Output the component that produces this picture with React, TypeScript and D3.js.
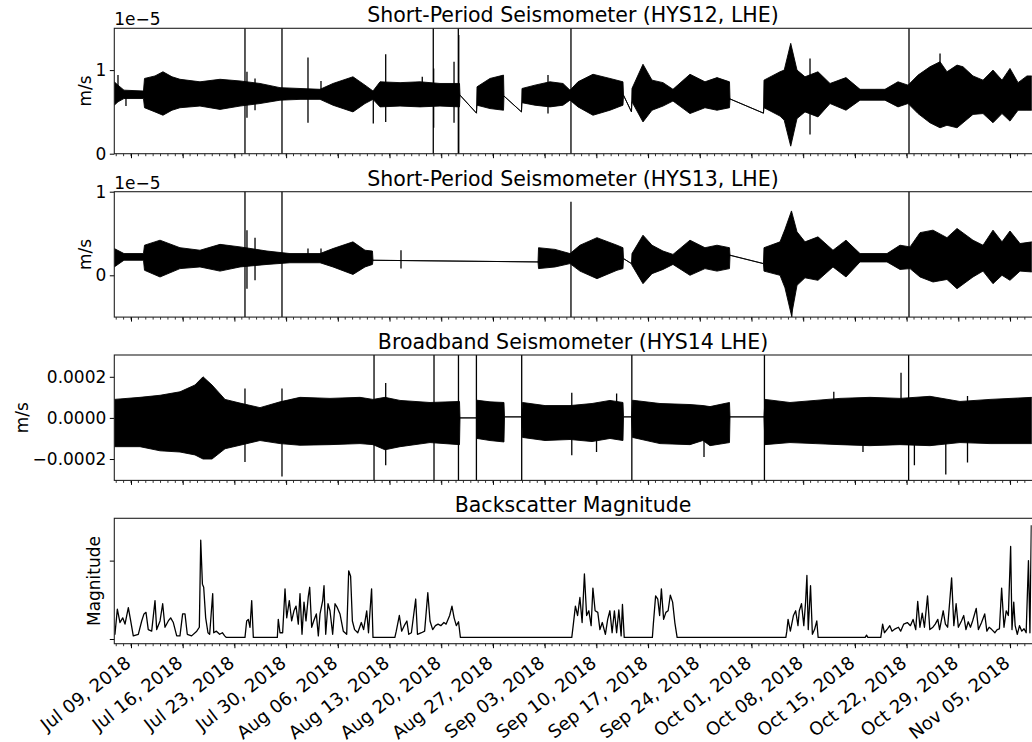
import React, { useEffect, useRef } from "react";
import * as d3 from "d3";

// all times are days since 2018-07-09 00:00 UTC
const t0 = Date.UTC(2018, 6, 9);
const dayMs = 864e5;

// HYS12 LHE envelope: [day, low, high] in 1e-5 m/s
const hys12Envelope = [
  [-2.26, 0.58, 0.86], [-1.76, 0.62, 0.82], [-0.95, 0.66, 0.76], [1.69, 0.66, 0.75],
  [1.83, 0.55, 0.9], [3.25, 0.5, 0.93], [4.33, 0.46, 0.98], [5.55, 0.52, 0.92],
  [6.63, 0.55, 0.89], [9.34, 0.57, 0.86], [12.05, 0.53, 0.89], [14.76, 0.57, 0.87],
  [17.46, 0.6, 0.84], [20.17, 0.64, 0.79], [22.88, 0.65, 0.78], [25.59, 0.65, 0.77],
  [27.35, 0.58, 0.84], [30.05, 0.5, 0.92], [31.68, 0.6, 0.82], [32.76, 0.65, 0.75],
  [33.71, 0.56, 0.86], [36.42, 0.57, 0.85], [39.12, 0.56, 0.86], [41.83, 0.57, 0.84],
  [44.47, 0.56, 0.84], [44.54, 0.7, 0.7], [46.77, 0.485, 0.485], [46.84, 0.58, 0.8],
  [48.6, 0.54, 0.9], [50.43, 0.52, 0.94], [50.49, 0.69, 0.69], [52.86, 0.5, 0.5],
  [52.93, 0.61, 0.78], [54.69, 0.58, 0.82], [56.72, 0.56, 0.86], [58.48, 0.58, 0.84],
  [59.43, 0.64, 0.76], [60.51, 0.56, 0.86], [62.54, 0.46, 0.95], [64.84, 0.52, 0.9],
  [66.6, 0.58, 0.86], [66.67, 0.7, 0.7], [67.75, 0.5, 0.5], [67.82, 0.62, 0.78],
  [69.31, 0.38, 1.07], [70.53, 0.52, 0.88], [72.02, 0.57, 0.85], [73.37, 0.63, 0.77],
  [75.67, 0.48, 0.95], [77.7, 0.55, 0.86], [79.33, 0.52, 0.91], [81.02, 0.55, 0.86],
  [81.09, 0.655, 0.655], [85.62, 0.485, 0.485], [85.69, 0.55, 0.88], [87.86, 0.45, 0.98],
  [88.43, 0.4, 1.0], [89.31, 0.09, 1.32], [90.16, 0.42, 1.0], [91.24, 0.5, 0.92],
  [93.0, 0.44, 0.98], [94.63, 0.6, 0.84], [96.79, 0.52, 0.91], [98.69, 0.64, 0.77],
  [102.07, 0.64, 0.77], [103.83, 0.56, 0.86], [105.19, 0.6, 0.82], [106.54, 0.48, 0.94],
  [108.16, 0.37, 1.04], [109.52, 0.31, 1.1], [110.46, 0.34, 0.98], [111.82, 0.31, 1.06],
  [112.63, 0.37, 1.04], [113.98, 0.47, 0.93], [115.34, 0.48, 0.88], [116.69, 0.37, 1.0],
  [117.91, 0.48, 0.88], [118.99, 0.39, 1.02], [120.08, 0.52, 0.85], [121.29, 0.52, 0.93],
  [121.97, 0.52, 0.93],
];

// HYS12 glitches: [day, low, high]; ±10 runs off the axes
const hys12Spikes = [
  [-1.76, 0.7, 0.94], [-0.68, 0.57, 0.72], [15.43, -10, 10], [15.7, 0.43, 0.98],
  [16.79, 0.52, 0.9], [20.44, -10, 10], [23.96, 0.37, 1.15], [25.72, 0.65, 0.87],
  [32.8, 0.36, 0.75], [34.48, 0.38, 1.19], [39.43, 0.65, 0.92], [40.92, -10, 10],
  [40.97, 0.31, 1.02], [43.73, 0.37, 1.1], [44.31, -10, 10], [44.37, 0.0, 1.42],
  [56.45, 0.48, 0.94], [59.56, -10, 10], [91.92, 0.23, 1.14], [105.32, -10, 10],
  [109.52, 0.6, 1.2],
];

// HYS13 LHE envelope: [day, low, high] in 1e-5 m/s
const hys13Envelope = [
  [-2.26, 0.1, 0.32], [-0.95, 0.18, 0.26], [1.69, 0.18, 0.26], [1.83, 0.06, 0.36],
  [3.93, -0.02, 0.42], [6.63, 0.08, 0.33], [9.34, 0.1, 0.3], [12.05, 0.05, 0.37],
  [14.76, 0.1, 0.34], [18.41, 0.13, 0.29], [21.52, 0.15, 0.26], [25.59, 0.15, 0.26],
  [27.35, 0.1, 0.32], [30.05, 0.01, 0.4], [31.68, 0.1, 0.3], [32.69, 0.13, 0.29],
  [32.76, 0.18, 0.18], [55.1, 0.16, 0.16], [55.17, 0.08, 0.33], [57.4, 0.1, 0.31],
  [59.43, 0.14, 0.26], [60.78, 0.05, 0.36], [63.08, -0.04, 0.45], [65.79, 0.06, 0.36],
  [66.6, 0.08, 0.33], [66.67, 0.2, 0.2], [67.75, 0.14, 0.14], [67.82, 0.12, 0.26],
  [69.31, -0.1, 0.48], [70.53, 0.02, 0.36], [72.02, 0.07, 0.29], [73.37, 0.13, 0.25],
  [75.67, 0.0, 0.42], [77.7, 0.08, 0.33], [79.33, 0.05, 0.36], [81.02, 0.08, 0.33],
  [81.09, 0.24, 0.24], [85.62, 0.14, 0.14], [85.69, 0.05, 0.33], [87.86, 0.0, 0.4],
  [88.53, -0.15, 0.55], [89.41, -0.48, 0.77], [90.16, -0.12, 0.52], [91.24, -0.03, 0.4],
  [93.0, -0.06, 0.46], [95.03, 0.1, 0.3], [96.79, -0.02, 0.42], [98.69, 0.16, 0.26],
  [102.34, 0.16, 0.26], [104.1, 0.07, 0.36], [105.46, 0.08, 0.34], [106.81, -0.02, 0.51],
  [108.57, -0.08, 0.54], [110.46, -0.05, 0.45], [111.82, -0.16, 0.56], [113.98, -0.02, 0.42],
  [115.34, 0.05, 0.36], [116.69, -0.1, 0.54], [117.91, 0.0, 0.4], [118.99, -0.06, 0.53],
  [120.35, 0.05, 0.38], [121.97, 0.04, 0.4],
];

const hys13Spikes = [
  [15.43, -10, 10], [15.7, -0.16, 0.54], [16.79, -0.06, 0.45], [20.44, -10, 10],
  [23.96, 0.2, 0.32], [25.72, 0.2, 0.32], [36.55, 0.08, 0.3], [59.56, -10, 0.88],
  [89.45, -10, 0.0], [105.32, -10, 10],
];

// HYS14 LHE broadband envelope: [day, low, high] in 1e-4 m/s
const hys14Envelope = [
  [-2.26, -1.4, 0.9], [1.22, -1.4, 1.0], [3.93, -1.6, 1.1], [6.63, -1.66, 1.27],
  [8.66, -1.8, 1.6], [9.75, -2.0, 2.0], [10.97, -2.0, 1.6], [12.73, -1.5, 0.9],
  [14.76, -1.33, 0.72], [17.46, -1.1, 0.5], [20.17, -1.25, 0.78], [22.88, -1.33, 1.0],
  [26.94, -1.3, 0.95], [31.0, -1.25, 1.0], [32.76, -1.3, 0.9], [34.38, -1.55, 1.0],
  [36.42, -1.4, 0.85], [40.48, -1.2, 0.75], [44.47, -1.3, 0.8], [44.54, 0, 0],
  [46.77, 0, 0], [46.84, -1.0, 0.86], [48.6, -1.1, 0.78], [50.49, -1.17, 0.75],
  [50.56, 0.05, 0.05], [52.86, 0.05, 0.05], [53.0, -0.95, 0.75], [56.05, -1.1, 0.6],
  [59.43, -1.05, 0.6], [62.41, -1.15, 0.7], [64.84, -1.0, 0.85], [66.6, -1.1, 0.75],
  [66.67, 0.05, 0.05], [67.75, 0.05, 0.05], [67.89, -0.95, 0.86], [71.61, -1.25, 0.7],
  [75.67, -1.3, 0.65], [77.43, -1.1, 0.6], [78.38, -1.35, 0.55], [81.02, -1.2, 0.75],
  [81.09, 0.05, 0.05], [85.69, 0.05, 0.05], [85.83, -1.3, 0.9], [89.21, -1.2, 0.75],
  [92.6, -1.25, 0.85], [95.98, -1.3, 0.95], [100.04, -1.35, 1.0], [104.1, -1.3, 0.95],
  [108.16, -1.35, 1.05], [112.22, -1.2, 0.8], [116.29, -1.25, 0.9], [121.97, -1.25, 1.0],
];

const hys14Spikes = [
  [15.43, -2.15, 1.43], [20.44, -2.85, 1.43], [32.9, -10, 10], [34.48, -2.3, 1.7],
  [41.02, -10, 10], [44.33, -10, 10], [46.76, -10, 10], [52.89, -10, 10],
  [59.67, -1.82, 1.22], [63.02, -1.66, 0.7], [65.74, -1.0, 1.19], [67.8, -10, 10],
  [77.57, -1.9, 0.5], [85.75, -10, 10], [95.14, -1.0, 1.27], [99.09, -1.66, 0.8],
  [104.24, -1.0, 2.2], [105.27, -10, 10], [106.05, -2.3, 0.8], [110.3, -2.75, 0.8],
  [113.24, -2.17, 1.06],
];

// backscatter magnitude: [day, value]
const backscatter = [
  [-2.26, 0.06], [-2.17, 0.06], [-1.85, 0.38], [-1.49, 0.21], [-1.12, 0.27], [-0.81, 0.19],
  [-0.36, 0.4], [-0.04, 0.23], [0.31, 0.04], [0.99, 0.06], [1.45, 0.23], [1.76, 0.32],
  [2.03, 0.34], [2.34, 0.12], [2.8, 0.1], [3.25, 0.49], [3.48, 0.12], [3.93, 0.23],
  [4.29, 0.45], [4.6, 0.15], [5.05, 0.23], [5.37, 0.27], [5.73, 0.21], [6.19, 0.04],
  [6.63, 0.04], [6.99, 0.32], [7.31, 0.32], [7.62, 0.06], [8.2, 0.04], [8.9, 0.1],
  [9.25, 0.15], [9.44, 1.26], [9.67, 0.7], [9.84, 0.66], [10.11, 0.27], [10.42, 0.08],
  [10.65, 0.06], [11.06, 0.58], [11.2, 0.08], [11.56, 0.1], [12.0, 0.06], [12.37, 0.08],
  [12.68, 0.04], [12.91, 0.02], [15.43, 0.02], [15.66, 0.23], [15.88, 0.25], [16.11, 0.15],
  [16.34, 0.49], [16.56, 0.02], [19.81, 0.02], [19.94, 0.25], [20.17, 0.08], [20.53, 0.08],
  [20.85, 0.64], [21.08, 0.27], [21.43, 0.49], [21.75, 0.23], [22.06, 0.36], [22.34, 0.42],
  [22.65, 0.19], [22.88, 0.58], [23.15, 0.06], [23.42, 0.47], [23.69, 0.23], [24.0, 0.54],
  [24.19, 0.66], [24.46, 0.15], [24.73, 0.23], [25.09, 0.32], [25.36, 0.04], [25.59, 0.32],
  [25.95, 0.49], [26.13, 0.68], [26.36, 0.06], [26.67, 0.45], [26.94, 0.36], [27.3, 0.06],
  [27.62, 0.45], [27.93, 0.4], [28.29, 0.32], [28.74, 0.1], [29.2, 0.06], [29.47, 0.87],
  [29.73, 0.8], [29.97, 0.23], [30.27, 0.12], [30.7, 0.08], [31.18, 0.21], [31.49, 0.12],
  [31.91, 0.36], [32.15, 0.08], [32.57, 0.64], [32.76, 0.02], [35.72, 0.02], [35.91, 0.1],
  [36.33, 0.3], [36.64, 0.1], [36.99, 0.17], [37.35, 0.23], [37.6, 0.06], [37.96, 0.08],
  [38.54, 0.51], [38.78, 0.06], [39.33, 0.08], [39.75, 0.1], [40.18, 0.59], [40.48, 0.23],
  [40.84, 0.12], [41.21, 0.17], [41.57, 0.19], [41.94, 0.17], [42.36, 0.21], [42.66, 0.19],
  [43.14, 0.3], [43.45, 0.42], [43.74, 0.27], [44.04, 0.17], [44.34, 0.22], [44.59, 0.02],
  [59.67, 0.02], [59.86, 0.17], [60.16, 0.42], [60.46, 0.3], [60.77, 0.53], [61.07, 0.21],
  [61.38, 0.83], [61.68, 0.3], [61.98, 0.36], [62.29, 0.17], [62.53, 0.65], [62.83, 0.36],
  [63.19, 0.34], [63.48, 0.12], [63.8, 0.21], [64.22, 0.06], [64.53, 0.25], [64.83, 0.36],
  [65.13, 0.08], [65.44, 0.36], [65.74, 0.08], [66.04, 0.37], [66.35, 0.04], [66.53, 0.44],
  [66.77, 0.02], [70.58, 0.02], [70.71, 0.19], [71.02, 0.55], [71.31, 0.51], [71.56, 0.3],
  [71.8, 0.64], [72.1, 0.25], [72.41, 0.34], [72.71, 0.36], [73.01, 0.56], [73.32, 0.47],
  [73.62, 0.21], [73.93, 0.02], [88.65, 0.02], [88.78, 0.1], [88.95, 0.25], [89.26, 0.1],
  [89.68, 0.3], [89.98, 0.36], [90.29, 0.17], [90.47, 0.36], [90.77, 0.45], [91.08, 0.17],
  [91.32, 0.47], [91.5, 0.81], [91.68, 0.12], [91.99, 0.68], [92.24, 0.06], [92.53, 0.12],
  [92.84, 0.23], [93.02, 0.02], [99.39, 0.02], [99.57, 0.05], [99.75, 0.02], [101.5, 0.02],
  [101.75, 0.19], [101.99, 0.08], [102.41, 0.13], [102.72, 0.17], [103.02, 0.1], [103.45, 0.13],
  [103.89, 0.15], [104.19, 0.1], [104.61, 0.19], [105.09, 0.21], [105.51, 0.17], [105.87, 0.25],
  [106.23, 0.12], [106.5, 0.48], [106.8, 0.15], [107.11, 0.33], [107.41, 0.15], [107.83, 0.55],
  [108.14, 0.12], [108.56, 0.15], [108.87, 0.19], [109.22, 0.25], [109.46, 0.12], [109.95, 0.36],
  [110.25, 0.19], [110.55, 0.15], [111.09, 0.78], [111.39, 0.17], [111.7, 0.45], [112.0, 0.15],
  [112.42, 0.23], [112.73, 0.3], [113.03, 0.12], [113.34, 0.22], [113.64, 0.15], [113.93, 0.23],
  [114.42, 0.39], [114.72, 0.12], [115.14, 0.21], [115.57, 0.32], [115.86, 0.1], [116.17, 0.15],
  [116.53, 0.12], [116.95, 0.08], [117.26, 0.12], [117.56, 0.13], [117.86, 0.65], [118.18, 0.15],
  [118.48, 0.36], [118.77, 0.3], [119.08, 1.18], [119.26, 0.12], [119.5, 0.47], [119.69, 0.17],
  [119.98, 0.06], [120.28, 0.17], [120.59, 0.1], [120.89, 0.13], [121.18, 0.08], [121.49, 1.0],
  [121.69, 0.08], [121.88, 1.45],
];

const titles = [
  "Short-Period Seismometer (HYS12, LHE)",
  "Short-Period Seismometer (HYS13, LHE)",
  "Broadband Seismometer (HYS14 LHE)",
  "Backscatter Magnitude",
];
const yLabels = ["m/s", "m/s", "m/s", "Magnitude"];
const yDomains = [[0, 1.5], [-0.5, 1.0], [-3.04, 3.06], [-0.06, 1.54]];
const yTicks = [[0, 1], [0, 1], [-2, 0, 2], [0, 1]];

const FONT = "DejaVu Sans, sans-serif";
const toDate = (d: number) => new Date(t0 + d * dayMs);

const App = () => {
  const ref = useRef<SVGSVGElement>(null);

  useEffect(() => {
    const svg = d3.select(ref.current);
    svg.selectAll("*").remove();

    const left = 114.3, right = 1031.7, h = 125.4;
    const tops = [28.3, 191.7, 355, 518.3];

    const x = d3.scaleUtc().domain([toDate(-2.26), toDate(121.93)]).range([left, right]);
    const mondays = d3.utcMonday.range(toDate(0), toDate(122));
    const days = d3.utcDay.range(toDate(-2), toDate(122));
    const fmtDate = d3.utcFormat("%b %d, %Y");

    const fmts = [
      (v: number) => String(v),
      (v: number) => String(v),
      (v: number) => (v < 0 ? "\u2212" : "") + (Math.abs(v) * 1e-4).toFixed(4),
      () => "",
    ];

    tops.forEach((top, i) => {
      const y = d3.scaleLinear().domain(yDomains[i]).range([top + h, top]);
      const g = svg.append("g");

      g.append("clipPath").attr("id", "clip" + i)
        .append("rect").attr("x", left).attr("y", top).attr("width", right - left).attr("height", h);

      const plot = g.append("g").attr("clip-path", `url(#clip${i})`);

      if (i < 3) {
        const env = [hys12Envelope, hys13Envelope, hys14Envelope][i];
        const spikes = [hys12Spikes, hys13Spikes, hys14Spikes][i];
        const area = d3.area<number[]>()
          .x(d => x(toDate(d[0])))
          .y0(d => y(d[1]))
          .y1(d => y(d[2]));
        plot.append("path").attr("d", area(env))
          .attr("fill", "#000").attr("stroke", "#000").attr("stroke-width", 0.9)
          .attr("stroke-linejoin", "round");
        plot.selectAll("line.spike").data(spikes).join("line")
          .attr("x1", d => x(toDate(d[0]))).attr("x2", d => x(toDate(d[0])))
          .attr("y1", d => y(Math.max(d[1], yDomains[i][0] - 1)))
          .attr("y2", d => y(Math.min(d[2], yDomains[i][1] + 1)))
          .attr("stroke", "#000").attr("stroke-width", 1.3);
      } else {
        const line = d3.line<number[]>()
          .x(d => x(toDate(d[0])))
          .y(d => y(d[1]));
        plot.append("path").attr("d", line(backscatter))
          .attr("fill", "none").attr("stroke", "#000").attr("stroke-width", 1.3)
          .attr("stroke-linejoin", "round");
      }

      // y axis
      const yAxis = g.append("g").attr("transform", `translate(${left},0)`)
        .call(d3.axisLeft(y).tickValues(yTicks[i]).tickSize(4.5).tickPadding(3.5).tickFormat(fmts[i]));
      yAxis.select(".domain").remove();
      yAxis.selectAll("text").attr("font-family", FONT).attr("font-size", 17).attr("fill", "#000");

      // x axis: weekly majors and daily minors
      const xAxis = g.append("g").attr("transform", `translate(0,${top + h})`)
        .call(d3.axisBottom(x).tickValues(mondays).tickSize(4.5).tickFormat(() => ""));
      xAxis.select(".domain").remove();
      g.append("g").selectAll("line").data(days).join("line")
        .attr("x1", d => x(d)).attr("x2", d => x(d))
        .attr("y1", top + h).attr("y2", top + h + 2.5)
        .attr("stroke", "#000").attr("stroke-width", 0.8);

      // spines
      g.append("rect").attr("x", left).attr("y", top).attr("width", right - left + 2).attr("height", h)
        .attr("fill", "none").attr("stroke", "#222").attr("stroke-width", 1.1);

      g.append("text").attr("x", (left + right) / 2).attr("y", top - 6)
        .attr("text-anchor", "middle").attr("font-family", FONT).attr("font-size", 20.5)
        .text(titles[i]);

      if (i < 2) {
        g.append("text").attr("x", left).attr("y", top - 3)
          .attr("font-family", FONT).attr("font-size", 17).text("1e\u22125");
      }

      const labelX = [91, 91, 28, 100][i];
      g.append("text")
        .attr("transform", `translate(${labelX},${top + h / 2}) rotate(-90)`)
        .attr("text-anchor", "middle").attr("font-family", FONT).attr("font-size", 17)
        .text(yLabels[i]);

      if (i === 3) {
        g.append("g").selectAll("text").data(mondays).join("text")
          .attr("transform", d => `translate(${x(d) + 1.1},${top + h + 21.5}) rotate(-38)`)
          .attr("text-anchor", "end").attr("font-family", FONT).attr("font-size", 18.1)
          .text(d => fmtDate(d));
      }
    });
  }, []);

  return (
    <svg ref={ref} width={1032} height={742}
      style={{ position: "absolute", left: 0, top: 0, background: "#fff" }} />
  );
};

export default App;
